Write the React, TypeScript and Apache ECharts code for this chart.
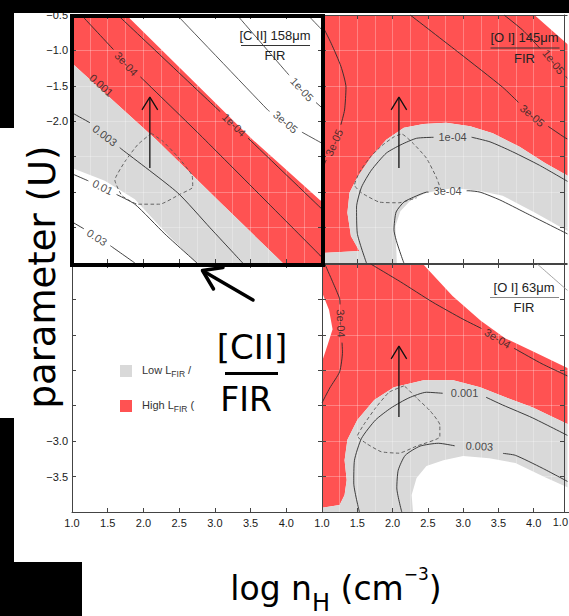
import React, { useEffect, useRef } from 'react';
import * as echarts from 'echarts';

type Pt = [number, number];
interface Contour {
  text: string;
  line: Pt[];
  at?: Pt;
  rotate?: number;
  gap?: number;
  color?: string;
}

const RED = '#ff5252';
const GRAY = '#d9d9d9';
const LINE = '#2a2a2a';
const SPLIT = 'rgba(255,255,255,0.28)';
const SANS = '"Liberation Sans", Arial, Helvetica, sans-serif';
const HAND = '"DejaVu Sans", "Noto Sans", sans-serif';

// log n_H (x) and log U (y) extents shared by every panel
const X_MIN = 1.0;
const X_MAX = 4.5;
const Y_MIN = -4.0;
const Y_MAX = -0.5;
const STEP = 0.5;

const rev = (a: Pt[]): Pt[] => a.slice().reverse();

// ---------- [C II] 158um / FIR ----------
const ciiHighEdge: Pt[] = [[1.76, -0.5], [3.53, -2.26], [4.47, -3.11], [4.5, -3.13]];
const ciiMidEdge: Pt[] = [[1.0, -1.18], [2.18, -2.26], [3.07, -3.14], [3.95, -4.0]];
const ciiLowEdge: Pt[] = [[1.0, -2.66], [1.46, -2.84], [1.88, -3.1], [2.3, -3.56], [2.74, -4.0]];
const ciiHigh: Pt[] = [[1.0, -0.5], ...ciiHighEdge, [4.5, -4.0], ...rev(ciiMidEdge)];
const ciiLow: Pt[] = [...ciiMidEdge, ...rev(ciiLowEdge)];

const ciiContours: Contour[] = [
  { text: '3e-06', line: [[4.3, -0.5], [4.5, -0.71]], color: '#444' },
  { text: '1e-05', line: [[3.31, -0.5], [4.22, -1.56], [4.5, -1.81]], at: [4.22, -1.55], rotate: -47, color: '#444' },
  { text: '3e-05', line: [[2.47, -0.5], [3.74, -1.84], [3.98, -2.02], [4.5, -2.31]], at: [3.99, -2.01], rotate: -40, color: '#444' },
  { text: '1e-04', line: [[1.64, -0.5], [3.27, -2.05], [4.5, -3.24]], at: [3.27, -2.05], rotate: -44 },
  { text: '3e-04', line: [[1.13, -0.5], [1.74, -1.16], [2.79, -2.19], [4.5, -3.92]], at: [1.76, -1.19], rotate: -47 },
  { text: '0.001', line: [], at: [1.41, -1.49], rotate: -42 },
  { text: '0.003', line: [[1.0, -1.88], [1.25, -2.02], [1.69, -2.39], [2.48, -3.01], [2.93, -3.5], [3.39, -4.0]], at: [1.46, -2.2], rotate: -38 },
  { text: '0.01', line: [[1.0, -2.74], [1.43, -2.93], [1.88, -3.17], [2.3, -3.59], [2.75, -4.0]], at: [1.43, -2.93], rotate: -27 },
  { text: '0.03', line: [[1.0, -3.42], [1.36, -3.63], [1.88, -4.0]], at: [1.35, -3.64], rotate: -33 },
];
const ciiDashed: Pt[] = [
  [2.11, -2.17], [1.92, -2.33], [1.74, -2.57], [1.6, -2.83], [1.7, -3.05], [1.92, -3.17],
  [2.23, -3.17], [2.51, -3.03], [2.69, -2.93], [2.68, -2.76], [2.48, -2.5], [2.27, -2.28], [2.11, -2.17],
];

// ---------- [O I] 145um / FIR ----------
const oi145Outer: Pt[] = [
  [4.5, -2.78], [4.16, -2.59], [3.8, -2.36], [3.42, -2.17], [3.1, -2.07], [2.76, -2.02], [2.44, -2.04],
  [2.16, -2.09], [1.91, -2.26], [1.7, -2.5], [1.5, -2.79], [1.39, -3.01], [1.36, -3.29], [1.41, -3.62],
  [1.53, -3.83], [1.0, -3.86],
];
const oi145Inner: Pt[] = [
  [4.5, -3.56], [4.02, -3.29], [3.56, -3.05], [3.23, -2.98], [2.86, -2.94], [2.48, -3.01], [2.26, -3.11],
  [2.11, -3.27], [2.04, -3.48], [2.06, -4.0],
];
const oi145High: Pt[] = [[1.0, -0.5], [4.01, -0.5], [4.5, -0.93], ...oi145Outer];
const oi145Low: Pt[] = [...oi145Outer, [1.0, -4.0], ...rev(oi145Inner)];

const oi145Contours: Contour[] = [
  { text: '3e-05', line: [[1.0, -0.64], [1.13, -0.9], [1.27, -1.23], [1.34, -1.52], [1.32, -1.84], [1.25, -2.12], [1.04, -2.59], [1.0, -2.69]], at: [1.17, -2.3], rotate: 66 },
  { text: '1e-05', line: [[3.58, -0.5], [3.84, -0.71], [4.07, -0.95], [4.28, -1.16], [4.5, -1.42]], at: [4.28, -1.16], rotate: -52 },
  { text: '3e-05', line: [[2.25, -0.5], [2.95, -1.04], [3.56, -1.52], [3.98, -1.92], [4.44, -2.23], [4.5, -2.26]], at: [3.98, -1.92], rotate: -40 },
  { text: '1e-04', line: [[1.63, -4.0], [1.5, -3.58], [1.49, -3.21], [1.56, -2.93], [1.7, -2.69], [1.91, -2.45], [2.12, -2.33], [2.34, -2.24], [2.85, -2.21], [3.1, -2.22], [3.38, -2.29], [3.7, -2.43], [4.08, -2.62], [4.5, -2.86]], at: [2.85, -2.22], rotate: 0 },
  { text: '3e-04', line: [[2.16, -4.0], [2.02, -3.53], [2.05, -3.28], [2.16, -3.14], [2.3, -3.07], [2.48, -3.0], [3.07, -2.98], [3.24, -3.0], [3.52, -3.11], [3.88, -3.29], [4.5, -3.6]], at: [2.78, -2.99], rotate: 0 },
];
const oi145Dashed: Pt[] = [
  [2.69, -2.98], [2.62, -2.79], [2.48, -2.52], [2.3, -2.32], [2.13, -2.18], [2.02, -2.22], [1.84, -2.35],
  [1.67, -2.52], [1.53, -2.72], [1.46, -2.9], [1.56, -3.01], [1.81, -3.14], [2.09, -3.15], [2.34, -3.08],
];

// ---------- [O I] 63um / FIR ----------
const oi63HighEdge: Pt[] = [[2.43, -0.5], [2.85, -0.95], [3.25, -1.3], [3.6, -1.55], [4.0, -1.74], [4.5, -1.98]];
const oi63Outer: Pt[] = [
  [4.5, -2.77], [3.98, -2.52], [3.6, -2.38], [3.24, -2.24], [2.86, -2.14], [2.44, -2.14], [2.02, -2.24],
  [1.74, -2.42], [1.5, -2.7], [1.36, -2.98], [1.32, -3.27], [1.35, -3.55], [1.32, -3.76], [1.25, -3.9], [1.0, -3.94],
];
const oi63Notch: Pt[] = [[1.0, -1.88], [1.08, -1.64], [1.15, -1.42], [1.1, -1.15], [1.0, -0.9]];
const oi63Inner: Pt[] = [
  [4.5, -3.66], [4.16, -3.51], [3.74, -3.31], [3.37, -3.24], [3.0, -3.21], [2.72, -3.27], [2.48, -3.35],
  [2.34, -3.52], [2.27, -3.76], [2.29, -4.0],
];
const oi63High: Pt[] = [[1.0, -0.5], ...oi63HighEdge, ...oi63Outer, ...oi63Notch];
const oi63Low: Pt[] = [...oi63Outer, [1.0, -4.0], ...rev(oi63Inner)];

const oi63Contours: Contour[] = [
  { text: '3e-04', line: [[1.04, -0.5], [1.15, -0.75], [1.25, -0.99], [1.27, -1.32], [1.29, -1.74], [1.25, -2.02], [1.11, -2.25], [1.0, -2.46]], at: [1.27, -1.34], rotate: -88 },
  { text: '3e-04', line: [[1.69, -0.5], [2.11, -0.75], [2.57, -1.04], [3.0, -1.28], [3.28, -1.42], [3.49, -1.56], [3.74, -1.7], [4.12, -1.91], [4.5, -2.09]], at: [3.49, -1.55], rotate: -31 },
  { text: '1e-04', line: [[4.05, -0.5], [4.44, -0.84], [4.5, -0.89]], color: '#999' },
  { text: '0.001', line: [[1.53, -4.0], [1.45, -3.59], [1.46, -3.27], [1.56, -2.96], [1.76, -2.7], [1.98, -2.53], [2.23, -2.39], [2.48, -2.31], [3.28, -2.36], [3.56, -2.49], [3.98, -2.67], [4.5, -2.93]], at: [3.02, -2.32], rotate: 0, gap: 0.31 },
  { text: '0.003', line: [[2.13, -4.0], [2.06, -3.66], [2.08, -3.41], [2.18, -3.2], [2.39, -3.07], [2.65, -3.03], [3.74, -3.2], [4.12, -3.38], [4.5, -3.58]], at: [3.23, -3.07], rotate: -3, gap: 0.35 },
];
const oi63Dashed: Pt[] = [
  [2.16, -2.22], [1.95, -2.31], [1.76, -2.53], [1.59, -2.77], [1.5, -2.93], [1.64, -3.04], [1.84, -3.15],
  [2.09, -3.17], [2.34, -3.07], [2.67, -2.94], [2.67, -2.77], [2.53, -2.57], [2.34, -2.39], [2.2, -2.25], [2.16, -2.22],
];

// Upward arrow drawn in each model panel
const arrowShaft: Pt[] = [[2.09, -2.66], [2.09, -1.66]];
const arrowHead: Pt[] = [[1.98, -1.84], [2.09, -1.66], [2.2, -1.84]];

interface Panel {
  high: Pt[];
  low: Pt[];
  contours: Contour[];
  dashed: Pt[];
  arrow: boolean;
}

const panels: Panel[] = [
  { high: ciiHigh, low: ciiLow, contours: ciiContours, dashed: ciiDashed, arrow: true },
  { high: oi145High, low: oi145Low, contours: oi145Contours, dashed: oi145Dashed, arrow: true },
  { high: [], low: [], contours: [], dashed: [], arrow: false },
  { high: oi63High, low: oi63Low, contours: oi63Contours, dashed: oi63Dashed, arrow: true },
];

// Splits a polyline into the runs lying outside a circle around a contour label.
function cutAround(line: Pt[], c: Pt, r: number): Pt[][] {
  const segs: Pt[][] = [];
  if (line.length < 2) return segs;
  const dist = (p: Pt) => Math.hypot(p[0] - c[0], p[1] - c[1]);
  let inside = dist(line[0]) < r;
  let cur: Pt[] = inside ? [] : [line[0]];
  for (let i = 1; i < line.length; i++) {
    const a = line[i - 1];
    const b = line[i];
    const dx = b[0] - a[0];
    const dy = b[1] - a[1];
    const fx = a[0] - c[0];
    const fy = a[1] - c[1];
    const A = dx * dx + dy * dy;
    const B = 2 * (fx * dx + fy * dy);
    const C = fx * fx + fy * fy - r * r;
    const D = B * B - 4 * A * C;
    if (A > 0 && D > 0) {
      const s = Math.sqrt(D);
      const ts = [(-B - s) / (2 * A), (-B + s) / (2 * A)].filter((t) => t > 0 && t < 1);
      for (const t of ts) {
        const q: Pt = [a[0] + t * dx, a[1] + t * dy];
        if (inside) {
          cur = [q];
          inside = false;
        } else {
          cur.push(q);
          segs.push(cur);
          cur = [];
          inside = true;
        }
      }
    }
    if (!inside) cur.push(b);
  }
  if (cur.length > 1) segs.push(cur);
  return segs;
}

const fmt = (v: number) => (v < 0 ? '\u2212' : '') + Math.abs(v).toFixed(1);

function fillSeries(g: number, pts: Pt[], color: string) {
  return {
    type: 'custom',
    xAxisIndex: 2 * g,
    yAxisIndex: 2 * g,
    data: pts,
    encode: { x: 0, y: 1 },
    z: 1,
    silent: true,
    clip: true,
    renderItem: (params: any, api: any) => {
      if (params.dataIndex !== 0) return null;
      return {
        type: 'polygon',
        shape: { points: pts.map((p) => api.coord(p)) },
        style: { fill: color, stroke: null },
      };
    },
  };
}

function lineSeries(g: number, data: Pt[], style: any, z = 4, smooth: number | boolean = 0.2) {
  return {
    type: 'line',
    xAxisIndex: 2 * g,
    yAxisIndex: 2 * g,
    data,
    symbol: 'none',
    smooth,
    silent: true,
    clip: true,
    z,
    lineStyle: style,
  };
}

function buildOption() {
  const axisColor = '#444';
  const grids: any[] = [];
  const xAxes: any[] = [];
  const yAxes: any[] = [];
  const series: any[] = [];

  for (let g = 0; g < 4; g++) {
    const bottomRow = g >= 2;
    const leftCol = g % 2 === 0;
    grids.push({ left: leftCol ? 72 : 322, top: bottomRow ? 264 : 15, width: 250, height: 248 });
    const lineCommon = { show: true, onZero: false, lineStyle: { color: axisColor, width: 1 } };
    const tickCommon = { show: true, inside: true, length: 4, lineStyle: { color: axisColor } };
    xAxes.push({
      type: 'value', gridIndex: g, min: X_MIN, max: X_MAX, interval: STEP, position: 'bottom', z: 3,
      axisLine: lineCommon, axisTick: tickCommon,
      axisLabel: { show: bottomRow, showMaxLabel: false, margin: 5, color: '#1a1a1a', fontSize: 11, fontFamily: SANS, formatter: fmt },
      splitLine: { show: true, lineStyle: { color: SPLIT, width: 1 } },
      minorTick: { show: false, splitNumber: 2 },
      minorSplitLine: { show: true, lineStyle: { color: SPLIT, width: 1 } },
    });
    xAxes.push({
      type: 'value', gridIndex: g, min: X_MIN, max: X_MAX, interval: STEP, position: 'top', z: 3,
      axisLine: lineCommon, axisTick: tickCommon, axisLabel: { show: false }, splitLine: { show: false },
    });
    yAxes.push({
      type: 'value', gridIndex: g, min: Y_MIN, max: Y_MAX, interval: STEP, position: 'left', z: 3,
      axisLine: lineCommon, axisTick: tickCommon,
      axisLabel: { show: leftCol, showMinLabel: false, margin: 4, color: '#1a1a1a', fontSize: 11, fontFamily: SANS, formatter: fmt },
      splitLine: { show: true, lineStyle: { color: SPLIT, width: 1 } },
    });
    yAxes.push({
      type: 'value', gridIndex: g, min: Y_MIN, max: Y_MAX, interval: STEP, position: 'right', z: 3,
      offset: leftCol ? 0 : -5,
      axisLine: lineCommon, axisTick: tickCommon, axisLabel: { show: false }, splitLine: { show: false },
    });

    const p = panels[g];
    if (p.high.length) series.push(fillSeries(g, p.high, RED));
    if (p.low.length) series.push(fillSeries(g, p.low, GRAY));
    for (const c of p.contours) {
      const r = c.gap ?? 0.05 * c.text.length + 0.02;
      const segs = c.at ? cutAround(c.line, c.at, r) : [c.line];
      for (const s of segs) {
        if (s.length > 1) series.push(lineSeries(g, s, { color: c.color ?? LINE, width: 0.9 }));
      }
    }
    if (p.dashed.length) series.push(lineSeries(g, p.dashed, { color: '#555', width: 0.9, type: [3.5, 2.5] }, 4, 0.15));
    if (p.arrow) {
      series.push(lineSeries(g, arrowShaft, { color: '#111', width: 1.3 }, 6, false));
      series.push(lineSeries(g, arrowHead, { color: '#111', width: 1.3 }, 6, false));
    }
    const labelled = p.contours.filter((c) => c.at);
    if (labelled.length) {
      series.push({
        type: 'scatter',
        xAxisIndex: 2 * g,
        yAxisIndex: 2 * g,
        symbolSize: 1,
        itemStyle: { color: 'rgba(0,0,0,0)' },
        silent: true,
        z: 5,
        data: labelled.map((c) => ({ name: c.text, value: c.at, label: { rotate: c.rotate ?? 0 } })),
        label: { show: true, position: 'inside', formatter: '{b}', color: '#222', fontSize: 11, fontFamily: SANS },
      });
    }
  }

  const Z = 100;
  const rect = (x: number, y: number, w: number, h: number, fill: string, z = Z) => ({
    type: 'rect', z, silent: true, shape: { x, y, width: w, height: h }, style: { fill },
  });
  const hline = (x1: number, x2: number, y: number, stroke: string, w: number) => ({
    type: 'line', z: Z + 1, silent: true, shape: { x1, y1: y, x2, y2: y }, style: { stroke, lineWidth: w },
  });
  const text = (x: number, y: number, t: string, size: number, family: string, fill = '#222', extra: any = {}) => ({
    type: 'text', z: Z + 2, silent: true, x, y, ...extra,
    style: { text: t, fontSize: size, fontFamily: family, fill, align: 'center', verticalAlign: 'middle', textAlign: 'center', textVerticalAlign: 'middle' },
  });
  const panelTitle = (cx: number, y: number, t: string, ruleColor: string) => [
    text(cx, y, t, 13, SANS),
    hline(cx - 34, cx + 35, y + 10.5, ruleColor, 1),
    text(cx, y + 20.5, 'FIR', 13, SANS),
  ];
  const legendRich = {
    a: { fontSize: 11, fontFamily: SANS, fill: '#333', verticalAlign: 'bottom', padding: [0, 0, 3, 0] },
    b: { fontSize: 8.5, fontFamily: SANS, fill: '#333', verticalAlign: 'bottom', padding: [0, 0, 0, 0] },
  };

  const graphic: any[] = [
    // frame of the page
    rect(0, 0, 569, 13, '#000'),
    rect(0, 13, 14, 115, '#000'),
    rect(0, 418, 14, 144, '#000'),
    rect(0, 562, 82, 54, '#000'),
    rect(567.5, 14, 2, 497, '#fff'),
    // y title box
    rect(0, 128, 71, 290, '#fff'),
    text(42, 277, 'parameter (U)', 37, HAND, '#000', { rotation: Math.PI / 2 }),
    // x title
    {
      type: 'text', z: Z + 2, silent: true, x: 336, y: 615,
      style: {
        text: '{m|log n}{s|H}{m| (cm}{p|\u22123}{m|)}',
        align: 'center', verticalAlign: 'bottom', textAlign: 'center', textVerticalAlign: 'bottom',
        rich: {
          m: { fontSize: 33, fontFamily: HAND, fill: '#000', verticalAlign: 'bottom', padding: [0, 0, 10, 0] },
          s: { fontSize: 24, fontFamily: HAND, fill: '#000', verticalAlign: 'bottom', padding: [0, 0, 0, 0] },
          p: { fontSize: 17, fontFamily: HAND, fill: '#000', verticalAlign: 'bottom', padding: [0, 0, 33, 0] },
        },
      },
    },
    // first tick label of the neighbouring column, at the right edge
    { type: 'text', z: Z + 2, silent: true, x: 568, y: 516,
      style: { text: '1.0', fontSize: 11, fontFamily: SANS, fill: '#1a1a1a', align: 'right', verticalAlign: 'top', textAlign: 'right', textVerticalAlign: 'top' } },
    // highlight box around the [C II] panel
    { type: 'rect', z: Z + 3, silent: true, shape: { x: 72, y: 16, width: 251, height: 249 }, style: { fill: 'none', stroke: '#000', lineWidth: 4 } },
    // legend
    rect(120, 365, 12, 12, GRAY),
    rect(120, 400, 12, 12, RED),
    { type: 'text', z: Z + 2, silent: true, x: 142, y: 371,
      style: { text: '{a|Low L}{b|FIR}{a| /}', rich: legendRich, align: 'left', verticalAlign: 'middle', textAlign: 'left', textVerticalAlign: 'middle' } },
    { type: 'text', z: Z + 2, silent: true, x: 142, y: 406,
      style: { text: '{a|High L}{b|FIR}{a| (}', rich: legendRich, align: 'left', verticalAlign: 'middle', textAlign: 'left', textVerticalAlign: 'middle' } },
    rect(198.5, 352, 22, 66, '#fff', Z + 3),
    // [C II] / FIR callout
    text(252, 347, '[CII]', 34, HAND, '#000', { z: Z + 4 }),
    { type: 'line', z: Z + 4, silent: true, shape: { x1: 225, y1: 373.5, x2: 278, y2: 373.5 }, style: { stroke: '#000', lineWidth: 3 } },
    text(246, 399, 'FIR', 33, HAND, '#000', { z: Z + 4 }),
    { type: 'line', z: Z + 4, silent: true, shape: { x1: 253, y1: 300, x2: 204, y2: 271.5 }, style: { stroke: '#000', lineWidth: 3.5, lineCap: 'round' } },
    { type: 'polyline', z: Z + 4, silent: true, shape: { points: [[223, 267.5], [202.5, 270.5], [213.5, 289]] }, style: { fill: 'none', stroke: '#000', lineWidth: 3.5, lineCap: 'round', lineJoin: 'round' } },
    // panel titles
    ...panelTitle(275, 35, '[C II] 158\u03bcm', '#333'),
    ...panelTitle(524.5, 37.5, '[O I] 145\u03bcm', '#333'),
    ...panelTitle(524, 287, '[O I] 63\u03bcm', '#888'),
  ];

  return {
    animation: false,
    backgroundColor: '#fff',
    textStyle: { fontFamily: SANS },
    grid: grids,
    xAxis: xAxes,
    yAxis: yAxes,
    series,
    graphic,
  };
}

export default function App() {
  const ref = useRef<HTMLDivElement>(null);
  useEffect(() => {
    if (!ref.current) return;
    const chart = echarts.init(ref.current, null, { renderer: 'svg' });
    chart.setOption(buildOption() as any);
    return () => chart.dispose();
  }, []);
  return (
    <div
      ref={ref}
      style={{ position: 'fixed', left: 0, top: 0, width: 569, height: 616, background: '#fff' }}
    />
  );
}
